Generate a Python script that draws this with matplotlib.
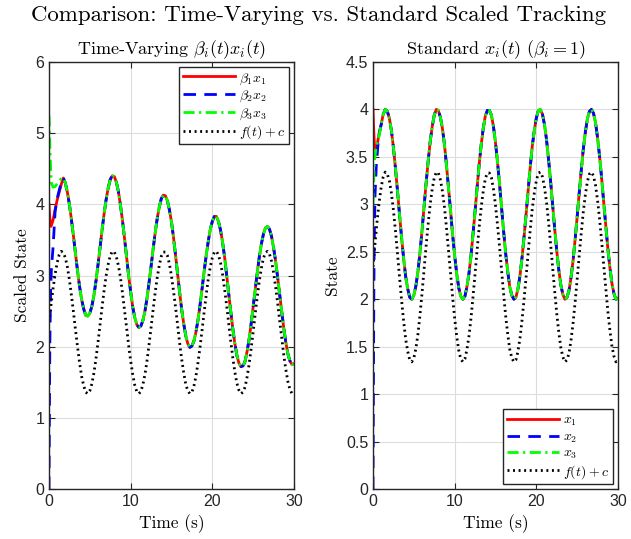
import numpy as np
import matplotlib
matplotlib.use("Agg")
import matplotlib.pyplot as plt

plt.rcParams['mathtext.fontset'] = 'cm'
plt.rcParams['axes.unicode_minus'] = False

# time grid (s) and values, 0.25 s apart
t = np.arange(0, 30.01, 0.25)

f_plus_c = [2.34, 2.59, 2.82, 3.02, 3.18, 3.29, 3.34, 3.32, 3.25, 3.12, 2.94, 2.72,
            2.48, 2.23, 1.99, 1.77, 1.58, 1.45, 1.36, 1.34, 1.38, 1.48, 1.63, 1.83,
            2.06, 2.31, 2.56, 2.79, 3.00, 3.16, 3.28, 3.34, 3.33, 3.26, 3.14, 2.97,
            2.75, 2.51, 2.27, 2.02, 1.80, 1.61, 1.46, 1.37, 1.34, 1.37, 1.47, 1.61,
            1.80, 2.03, 2.27, 2.52, 2.76, 2.97, 3.14, 3.27, 3.33, 3.33, 3.28, 3.16,
            2.99, 2.78, 2.55, 2.30, 2.05, 1.82, 1.63, 1.47, 1.38, 1.34, 1.36, 1.45,
            1.59, 1.78, 2.00, 2.24, 2.49, 2.73, 2.95, 3.12, 3.25, 3.33, 3.34, 3.29,
            3.18, 3.02, 2.81, 2.58, 2.33, 2.08, 1.85, 1.65, 1.49, 1.39, 1.34, 1.36,
            1.43, 1.57, 1.75, 1.97, 2.21, 2.46, 2.70, 2.92, 3.10, 3.24, 3.32, 3.34,
            3.30, 3.20, 3.04, 2.84, 2.61, 2.36, 2.12, 1.88, 1.68, 1.51, 1.40, 1.34, 1.35]

x_std = [3.00, 3.25, 3.48, 3.68, 3.84, 3.95, 4.00, 3.98, 3.91, 3.78, 3.60, 3.38,
         3.14, 2.89, 2.65, 2.43, 2.24, 2.11, 2.02, 2.00, 2.04, 2.14, 2.29, 2.49,
         2.72, 2.97, 3.22, 3.45, 3.66, 3.82, 3.94, 4.00, 3.99, 3.92, 3.80, 3.63,
         3.41, 3.17, 2.93, 2.68, 2.46, 2.27, 2.12, 2.03, 2.00, 2.03, 2.13, 2.27,
         2.46, 2.69, 2.93, 3.18, 3.42, 3.63, 3.80, 3.93, 3.99, 3.99, 3.94, 3.82,
         3.65, 3.44, 3.21, 2.96, 2.71, 2.48, 2.29, 2.13, 2.04, 2.00, 2.02, 2.11,
         2.25, 2.44, 2.66, 2.90, 3.15, 3.39, 3.61, 3.78, 3.91, 3.99, 4.00, 3.95,
         3.84, 3.68, 3.47, 3.24, 2.99, 2.74, 2.51, 2.31, 2.15, 2.05, 2.00, 2.02,
         2.09, 2.23, 2.41, 2.63, 2.87, 3.12, 3.36, 3.58, 3.76, 3.90, 3.98, 4.00,
         3.96, 3.86, 3.70, 3.50, 3.27, 3.02, 2.78, 2.54, 2.34, 2.17, 2.06, 2.00, 2.01]

bx_tv = [3.36, 3.61, 3.85, 4.05, 4.22, 4.33, 4.38, 4.37, 4.30, 4.17, 4.00, 3.78,
         3.55, 3.30, 3.06, 2.84, 2.66, 2.53, 2.44, 2.43, 2.47, 2.57, 2.72, 2.92,
         3.15, 3.39, 3.64, 3.87, 4.07, 4.23, 4.35, 4.40, 4.39, 4.31, 4.18, 3.99,
         3.77, 3.52, 3.26, 3.00, 2.77, 2.56, 2.41, 2.31, 2.27, 2.29, 2.37, 2.50,
         2.68, 2.90, 3.13, 3.37, 3.60, 3.80, 3.96, 4.08, 4.13, 4.12, 4.05, 3.92,
         3.75, 3.53, 3.28, 3.02, 2.76, 2.52, 2.32, 2.15, 2.04, 1.99, 2.01, 2.08,
         2.21, 2.38, 2.59, 2.82, 3.06, 3.28, 3.48, 3.65, 3.76, 3.83, 3.83, 3.76,
         3.64, 3.47, 3.26, 3.01, 2.75, 2.50, 2.26, 2.05, 1.88, 1.77, 1.72, 1.73,
         1.79, 1.93, 2.10, 2.32, 2.56, 2.80, 3.04, 3.26, 3.44, 3.58, 3.67, 3.69,
         3.65, 3.55, 3.39, 3.20, 2.97, 2.73, 2.49, 2.26, 2.06, 1.90, 1.80, 1.75, 1.76]

# start-up transients before the agents join the common curve
tv_t1 = [0, 0.1, 0.25, 0.5, 0.75, 1.0, 1.25, 1.5]
tv_v1 = [4.0, 3.8, 3.69, 3.78, 3.93, 4.06, 4.17, 4.28]
tv_t2 = [0, 0.05, 0.1, 0.2, 0.3, 0.5, 0.75, 1.0, 1.25, 1.5]
tv_v2 = [0.0, 1.0, 2.0, 2.8, 3.1, 3.4, 3.9, 4.08, 4.2, 4.3]
tv_t3 = [0, 0.1, 0.2, 0.3, 0.5, 0.75, 1.0, 1.25, 1.5]
tv_v3 = [5.25, 4.85, 4.5, 4.3, 4.24, 4.25, 4.29, 4.33, 4.36]

st_t1 = [0, 0.1, 0.2, 0.3, 0.5, 0.75]
st_v1 = [4.0, 3.75, 3.6, 3.58, 3.62, 3.75]
st_t2 = [0, 0.05, 0.1, 0.15, 0.25, 0.4, 0.6, 0.8]
st_v2 = [0.0, 1.0, 2.0, 2.6, 3.1, 3.4, 3.62, 3.76]
st_t3 = [0, 0.1, 0.2, 0.35, 0.5, 0.75]
st_v3 = [3.0, 3.3, 3.48, 3.58, 3.64, 3.72]

tv_labels = [r'$\beta_1 x_1$', r'$\beta_2 x_2$', r'$\beta_3 x_3$', r'$f(t)+c$']
st_labels = [r'$x_1$', r'$x_2$', r'$x_3$', r'$f(t)+c$']

serif = 'cmr10'
tick_font = 'Liberation Sans'
dark = '#262626'

styles = [dict(color='#ff0000', lw=2.0, ls='-'),
          dict(color='#0000ff', lw=2.0, dashes=(4.5, 3.0)),
          dict(color='#00ff00', lw=2.0, dashes=(4.0, 1.6, 0.8, 1.6)),
          dict(color='black', lw=2.0, dashes=(0.7, 1.3))]

fig = plt.figure(figsize=(6.31, 5.39), dpi=100)
ax1 = fig.add_axes([49/631, 1-489/539, 245/631, 427/539])
ax2 = fig.add_axes([373/631, 1-489/539, 245/631, 427/539])


def join(th, vh, tail, start):
    tt = list(th) + list(t[start:])
    vv = list(vh) + list(tail[start:])
    return tt, vv


lines1 = [join(tv_t1, tv_v1, bx_tv, 7), join(tv_t2, tv_v2, bx_tv, 7),
          join(tv_t3, tv_v3, bx_tv, 7), (t, f_plus_c)]
lines2 = [join(st_t1, st_v1, x_std, 4), join(st_t2, st_v2, x_std, 4),
          join(st_t3, st_v3, x_std, 4), (t, f_plus_c)]

for ax, lines, labels in [(ax1, lines1, tv_labels), (ax2, lines2, st_labels)]:
    for (xx, yy), st, lab in zip(lines, styles, labels):
        ax.plot(xx, yy, label=lab, **st)
    ax.set_xlim(0, 30)
    ax.set_xticks([0, 10, 20, 30])
    ax.grid(True, color='#dcdcdc', lw=0.8)
    ax.set_axisbelow(True)
    ax.tick_params(direction='in', top=True, right=True, length=4,
                   colors=dark, labelsize=11.5)
    for lb in ax.get_xticklabels() + ax.get_yticklabels():
        lb.set_fontfamily(tick_font)
    for sp in ax.spines.values():
        sp.set_color(dark)
        sp.set_linewidth(1.0)
    ax.set_xlabel('Time (s)', fontfamily=serif, fontsize=12.5, labelpad=4)

ax1.set_ylim(0, 6)
ax1.set_yticks(range(0, 7))
ax2.set_ylim(0, 4.5)
ax2.set_yticks(np.arange(0, 4.51, 0.5))
ax2.set_yticklabels(['0', '0.5', '1', '1.5', '2', '2.5', '3', '3.5', '4', '4.5'],
                    fontfamily=tick_font)

ax1.set_ylabel('Scaled State', fontfamily=serif, fontsize=12.5)
ax2.set_ylabel('State', fontfamily=serif, fontsize=12.5)
ax1.set_title(r'Time-Varying $\beta_i(t)x_i(t)$', fontfamily=serif, fontsize=13, pad=6)
ax2.set_title(r'Standard $x_i(t)$ $(\beta_i = 1)$', fontfamily=serif, fontsize=13, pad=6)

for ax, loc in [(ax1, 'upper right'), (ax2, 'lower right')]:
    leg = ax.legend(loc=loc, fontsize=10, handlelength=3.8, handletextpad=0.3,
                    labelspacing=0.1, borderpad=0.25, fancybox=False,
                    framealpha=1, borderaxespad=0.35)
    leg.get_frame().set_edgecolor(dark)
    leg.get_frame().set_linewidth(1.0)

fig.suptitle('Comparison: Time-Varying vs. Standard Scaled Tracking',
             fontfamily=serif, fontsize=16.5, x=0.505, y=0.99)

fig.savefig('out.png', dpi=100)
